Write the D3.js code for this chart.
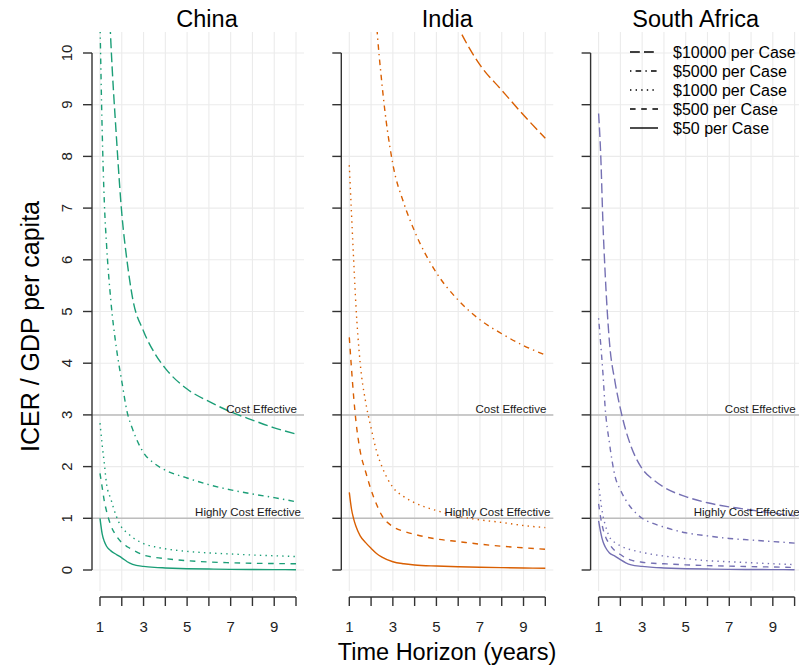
<!DOCTYPE html>
<html>
<head>
<meta charset="utf-8">
<script src="https://cdn.jsdelivr.net/npm/d3@7"></script>
<style>
  html, body { margin: 0; padding: 0; background: #fff; }
  svg { display: block; font-family: "Liberation Sans", Arial, Helvetica, sans-serif; }
</style>
</head>
<body>
<svg id="chart" width="799" height="671"></svg>
<script>
// ---- data -------------------------------------------------------------
const countries = ["China", "India", "South Africa"];
const costLabels = ["$10000 per Case", "$5000 per Case", "$1000 per Case", "$500 per Case", "$50 per Case"];
const years = [1, 1.1, 1.2, 1.3, 1.5, 1.75, 2, 2.25, 2.5, 3, 3.5, 4, 5, 6, 7, 8, 9, 10];
const xTickValues = [1, 2, 3, 4, 5, 6, 7, 8, 9, 10];
const xTickLabels = [1, 3, 5, 7, 9];
const yTickValues = [0, 1, 2, 3, 4, 5, 6, 7, 8, 9, 10];
const thresholds = [3, 1];
const thresholdLabels = ["Cost Effective", "Highly Cost Effective"];

// ICER / GDP per capita by time horizon, one array per cost per case
const china10000 = [20.3, 16.5, 14.0, 12.3, 10.2, 8.4, 6.9, 5.95, 5.25, 4.62, 4.2, 3.9, 3.5, 3.26, 3.06, 2.9, 2.75, 2.63];
const china5000  = [10.6, 8.5, 7.1, 6.3, 5.2, 4.3, 3.65, 3.05, 2.72, 2.27, 2.06, 1.93, 1.78, 1.65, 1.55, 1.47, 1.40, 1.32];
const china1000  = [2.84, 2.42, 2.05, 1.67, 1.37, 1.04, 0.82, 0.72, 0.63, 0.51, 0.45, 0.41, 0.36, 0.33, 0.31, 0.29, 0.275, 0.26];
const china500   = [1.87, 1.6, 1.33, 1.14, 0.86, 0.66, 0.53, 0.45, 0.39, 0.29, 0.245, 0.22, 0.18, 0.155, 0.14, 0.13, 0.125, 0.12];
const china50    = [1.0, 0.70, 0.55, 0.46, 0.37, 0.30, 0.235, 0.16, 0.11, 0.07, 0.05, 0.04, 0.025, 0.018, 0.013, 0.01, 0.008, 0.006];

const india10000 = [67, 59, 52, 46, 38, 31, 25, 21.5, 19, 15.5, 13.8, 12.7, 11.5, 10.5, 9.77, 9.28, 8.8, 8.35];
const india5000  = [34.4, 30, 26.5, 23.5, 19.5, 15.5, 12.6, 10.6, 9.4, 7.85, 7.1, 6.55, 5.75, 5.22, 4.84, 4.57, 4.34, 4.16];
const india1000  = [7.83, 6.9, 6.0, 5.15, 4.0, 3.25, 2.75, 2.3, 2.0, 1.6, 1.42, 1.3, 1.15, 1.04, 0.97, 0.92, 0.86, 0.82];
const india500   = [4.5, 3.9, 3.35, 2.9, 2.3, 1.9, 1.55, 1.27, 1.05, 0.84, 0.75, 0.69, 0.6, 0.55, 0.5, 0.46, 0.43, 0.4];
const india50    = [1.5, 1.18, 0.99, 0.85, 0.66, 0.53, 0.42, 0.32, 0.25, 0.16, 0.12, 0.097, 0.077, 0.064, 0.054, 0.046, 0.039, 0.033];

const safrica10000 = [8.83, 8.0, 6.7, 5.75, 4.4, 3.65, 3.12, 2.7, 2.38, 1.96, 1.75, 1.6, 1.42, 1.3, 1.22, 1.16, 1.1, 1.05];
const safrica5000  = [4.87, 4.35, 3.8, 3.15, 2.45, 1.82, 1.55, 1.35, 1.2, 1.0, 0.9, 0.83, 0.72, 0.66, 0.61, 0.58, 0.55, 0.52];
const safrica1000  = [1.68, 1.32, 1.05, 0.88, 0.64, 0.53, 0.47, 0.42, 0.39, 0.34, 0.30, 0.27, 0.22, 0.18, 0.16, 0.14, 0.12, 0.105];
const safrica500   = [1.28, 1.0, 0.8, 0.66, 0.5, 0.37, 0.3, 0.23, 0.19, 0.15, 0.13, 0.12, 0.1, 0.085, 0.075, 0.065, 0.058, 0.05];
const safrica50    = [0.95, 0.72, 0.55, 0.45, 0.33, 0.27, 0.2, 0.14, 0.1, 0.07, 0.05, 0.04, 0.025, 0.018, 0.013, 0.01, 0.008, 0.006];

const seriesByCountry = [
  [china10000, china5000, china1000, china500, china50],
  [india10000, india5000, india1000, india500, india50],
  [safrica10000, safrica5000, safrica1000, safrica500, safrica50]
];

// ---- styling ----------------------------------------------------------
const countryColors = ["#1b9e77", "#d95f02", "#7570b3"];
const lw = 1.4;
// R line types: longdash "73", dotdash "1343", dotted "13", dashed "44", solid
const dashPatterns = [
  [7, 3], [1, 3, 4, 3], [1, 3], [4, 4], null
].map(p => p ? p.map(v => v * lw).join(" ") : null);

// ---- layout -----------------------------------------------------------
const W = 799, H = 671;
const panelW = 212, panelStep = 249.3, panelLeft0 = 92;
const panelTop = 32, panelBottom = 591;
const titleShift = [9, 0, -1];

const svg = d3.select("#chart");
svg.append("rect").attr("width", W).attr("height", H).attr("fill", "#fff");

const y = d3.scaleLinear().domain([0, 10]).range([570, 53]);

countries.forEach((country, ci) => {
  const left = panelLeft0 + ci * panelStep;
  const x = d3.scaleLinear().domain([1, 10]).range([left + 8, left + 204]);
  const g = svg.append("g");

  const clipId = "clip" + ci;
  svg.append("clipPath").attr("id", clipId)
    .append("rect").attr("x", left).attr("y", panelTop)
    .attr("width", panelW).attr("height", panelBottom - panelTop);

  // grid
  const grid = g.append("g").attr("stroke", "#ebebeb").attr("stroke-width", 1.1);
  grid.selectAll("line.h").data(yTickValues).join("line")
    .attr("x1", left).attr("x2", left + panelW)
    .attr("y1", d => y(d)).attr("y2", d => y(d));
  grid.selectAll("line.v").data(xTickValues).join("line")
    .attr("x1", d => x(d)).attr("x2", d => x(d))
    .attr("y1", panelTop).attr("y2", panelBottom);

  // threshold reference lines
  g.selectAll("line.ref").data(thresholds).join("line")
    .attr("x1", left).attr("x2", left + panelW)
    .attr("y1", d => y(d)).attr("y2", d => y(d))
    .attr("stroke", "#bdbdbd").attr("stroke-width", 1.5);

  // curves
  const line = d3.line()
    .x((d, i) => x(years[i]))
    .y(d => y(d))
    .curve(d3.curveMonotoneX);
  const curves = g.append("g").attr("clip-path", `url(#${clipId})`);
  seriesByCountry[ci].forEach((vals, si) => {
    curves.append("path")
      .attr("d", line(vals))
      .attr("fill", "none")
      .attr("stroke", countryColors[ci])
      .attr("stroke-width", lw)
      .attr("stroke-dasharray", dashPatterns[si]);
  });

  // threshold labels
  g.selectAll("text.ref").data(thresholds).join("text")
    .attr("x", (d, i) => x(10) + (i === 0 ? 1 : 5))
    .attr("y", d => y(d) - 2)
    .attr("text-anchor", "end")
    .attr("font-size", 11.5)
    .attr("fill", "#1a1a1a")
    .text((d, i) => thresholdLabels[i]);

  // y axis (range frame 0..10)
  const ya = g.append("g").attr("stroke", "#333").attr("stroke-width", 1.4);
  ya.append("line").attr("x1", left).attr("x2", left).attr("y1", y(0)).attr("y2", y(10));
  ya.selectAll("line.t").data(yTickValues).join("line")
    .attr("x1", left - 9).attr("x2", left)
    .attr("y1", d => y(d)).attr("y2", d => y(d));
  if (ci === 0) {
    g.selectAll("text.yt").data(yTickValues).join("text")
      .attr("transform", d => `translate(${left - 20},${y(d)}) rotate(-90)`)
      .attr("text-anchor", "middle")
      .attr("font-size", 15)
      .attr("fill", "#222")
      .text(d => d);
  }

  // x axis (range frame 1..10)
  const axY = 597;
  const xa = g.append("g").attr("stroke", "#333").attr("stroke-width", 1.4);
  xa.append("line").attr("x1", x(1)).attr("x2", x(10)).attr("y1", axY).attr("y2", axY);
  xa.selectAll("line.t").data(xTickValues).join("line")
    .attr("x1", d => x(d)).attr("x2", d => x(d))
    .attr("y1", axY).attr("y2", axY + 9);
  g.selectAll("text.xt").data(xTickLabels).join("text")
    .attr("x", d => x(d)).attr("y", 632)
    .attr("text-anchor", "middle")
    .attr("font-size", 15)
    .attr("fill", "#222")
    .text(d => d);

  // panel title
  g.append("text")
    .attr("x", left + panelW / 2 + titleShift[ci]).attr("y", 27)
    .attr("text-anchor", "middle")
    .attr("font-size", 23.5)
    .attr("fill", "#000")
    .text(country);

  // legend inside the last panel
  if (ci === countries.length - 1) {
    const lg = g.append("g");
    costLabels.forEach((lab, si) => {
      const ly = 52 + si * 19;
      lg.append("line")
        .attr("x1", 630).attr("x2", 658).attr("y1", ly).attr("y2", ly)
        .attr("stroke", "#000").attr("stroke-width", lw)
        .attr("stroke-dasharray", dashPatterns[si]);
      lg.append("text")
        .attr("x", 673).attr("y", ly + 5.5)
        .attr("font-size", 16)
        .attr("fill", "#000")
        .text(lab);
    });
  }
});

// axis titles
svg.append("text")
  .attr("x", 447).attr("y", 660)
  .attr("text-anchor", "middle")
  .attr("font-size", 23.5)
  .attr("fill", "#000")
  .text("Time Horizon (years)");
svg.append("text")
  .attr("transform", `translate(39,${(panelTop + panelBottom) / 2 + 15}) rotate(-90)`)
  .attr("text-anchor", "middle")
  .attr("font-size", 25)
  .attr("fill", "#000")
  .text("ICER / GDP per capita");
</script>
</body>
</html>
